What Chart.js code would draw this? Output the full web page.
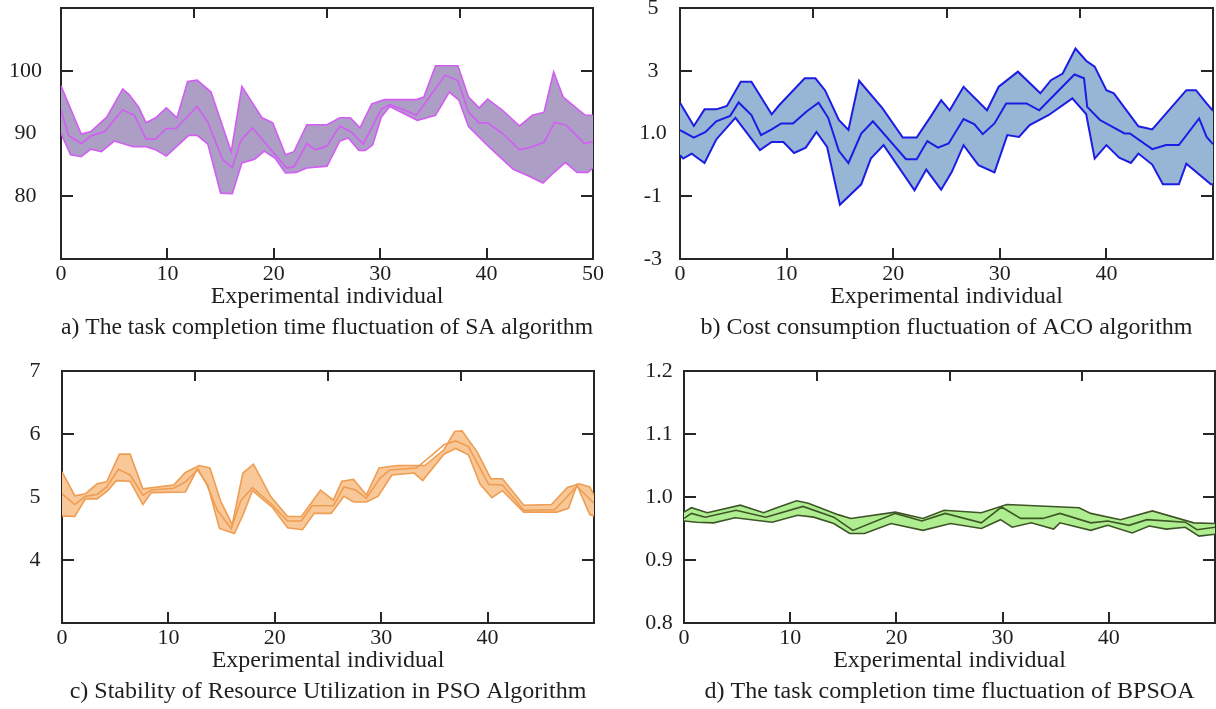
<!DOCTYPE html>
<html><head><meta charset="utf-8">
<script src="https://cdn.jsdelivr.net/npm/chart.js@4/dist/chart.umd.min.js"></script>
<style>
html,body{margin:0;padding:0;background:#fff;width:1216px;height:709px;overflow:hidden;}
canvas{position:absolute;}
</style></head><body>
<canvas id="ca" width="608" height="345" style="left:0;top:0"></canvas>
<canvas id="cb" width="608" height="345" style="left:608px;top:0"></canvas>
<canvas id="cc" width="608" height="364" style="left:0;top:345px"></canvas>
<canvas id="cd" width="608" height="364" style="left:608px;top:345px"></canvas>
<script>
// ---------- tick values / labels ----------
const xTicksFull = [0,10,20,30,40,50];
const xTicksShort = [0,10,20,30,40];
const topTicks = [12.5,25,37.5];
const saYTicks = [80,90,100];
const saYLabels = ['80','90','100'];
const acoYTicks = [-3,-1,1,3,5];
const acoYLabels = ['-3','-1','1.0','3','5'];
const psoYTicks = [4,5,6,7];
const psoYLabels = ['4','5','6','7'];
const bpYTicks = [0.8,0.9,1.0,1.1,1.2];
const bpYLabels = ['0.8','0.9','1.0','1.1','1.2'];
const xTitle = 'Experimental individual';
const captions = [
  'a) The task completion time fluctuation of SA algorithm',
  'b) Cost consumption fluctuation of ACO algorithm',
  'c) Stability of Resource Utilization in PSO Algorithm',
  'd) The task completion time fluctuation of BPSOA'
];

// ---------- series: [experimental individual, value] ----------
const saUpper = [[0,97.6],[1.9,89.9],[2.8,90.3],[4.3,92.6],[5.8,97.1],[6.4,96.2],[7.3,94.2],[8.0,91.7],[8.9,92.5],[9.9,94.1],[10.9,92.5],[11.9,98.3],[12.8,98.5],[14.1,96.6],[16.0,87.1],[17.0,97.5],[18.9,92.5],[19.9,91.7],[21.1,86.6],[21.9,87.1],[23.1,91.4],[25.0,91.4],[26.2,92.5],[27.2,92.5],[28.1,90.9],[29.2,94.7],[30.4,95.4],[33.4,95.4],[34.1,95.8],[35.2,100.8],[37.3,100.8],[38.3,95.8],[39.3,94.1],[40.1,95.5],[41.5,93.7],[43.1,91.2],[44.3,92.9],[45.4,93.4],[46.3,99.8],[47.2,95.8],[48.7,93.7],[49.3,92.9],[50,92.9]];
const saMiddle = [[0,93.7],[0.7,89.7],[1.9,88.4],[2.8,89.6],[4.1,90.3],[5.8,93.8],[6.9,92.9],[8.0,89.1],[8.9,89.1],[9.9,90.8],[10.8,90.8],[12.8,94.3],[13.8,91.8],[15.2,85.8],[16.1,84.6],[16.9,88.9],[18.0,90.9],[19.0,88.9],[19.9,87.1],[21.2,84.5],[21.9,84.7],[23.1,88.4],[23.9,87.4],[25.0,88.0],[26.2,91.2],[27.3,90.2],[28.4,88.3],[30.1,93.9],[30.9,94.6],[32.2,93.8],[33.4,92.9],[36.1,99.3],[37.3,98.4],[38.3,93.4],[39.3,91.7],[40.1,91.7],[41.5,90.0],[43.1,87.4],[44.3,87.9],[45.4,88.6],[46.4,91.8],[47.5,91.3],[49.2,88.4],[50,88.7]];
const saLower = [[0,90.0],[0.9,86.6],[1.9,86.3],[2.8,87.5],[3.8,87.1],[5.0,88.8],[6.8,87.9],[8.0,87.9],[8.9,87.4],[9.9,86.4],[12.0,89.7],[12.8,89.7],[13.8,88.3],[15.0,80.5],[16.1,80.4],[17.0,85.3],[18.2,85.9],[19.1,87.2],[20.1,86.1],[21.1,83.7],[22.1,83.8],[23.1,84.5],[25.0,84.8],[26.2,88.8],[27.0,89.3],[28.0,87.3],[28.6,87.3],[29.3,88.2],[30.1,92.6],[30.9,94.3],[33.5,92.1],[35.2,92.9],[36.5,96.6],[37.4,95.3],[38.3,91.1],[40.2,87.9],[42.5,84.3],[44.0,83.2],[45.3,82.1],[46.4,83.9],[47.4,85.4],[48.5,83.8],[49.5,83.8],[50,84.5]];

const acoUpper = [[0,1.98],[1.3,1.24],[2.3,1.77],[3.4,1.77],[4.4,1.88],[5.7,2.65],[6.7,2.65],[8.6,1.61],[9.3,1.90],[11.7,2.76],[12.7,2.76],[13.6,2.38],[14.9,1.43],[15.8,1.11],[16.8,2.68],[19.0,1.80],[20.9,0.87],[22.2,0.87],[23.5,1.53],[24.5,2.06],[25.3,1.74],[26.6,2.49],[28.8,1.74],[29.9,2.49],[31.7,2.97],[33.8,2.28],[34.8,2.70],[35.9,2.91],[37.1,3.71],[38.1,3.32],[38.9,3.13],[40.0,2.38],[40.7,2.28],[43.0,1.23],[44.3,1.13],[47.5,2.38],[48.4,2.38],[49.4,1.96],[50,1.72]];
const acoMiddle = [[0,1.11],[1.3,0.87],[2.4,1.05],[3.4,1.39],[4.7,1.56],[5.5,1.99],[6.7,1.59],[7.6,0.95],[8.6,1.13],[9.5,1.32],[10.6,1.32],[11.9,1.71],[13.0,1.98],[13.9,1.50],[14.9,0.45],[15.8,0.06],[17.0,1.00],[18.1,1.39],[21.2,0.18],[22.2,0.18],[23.2,0.76],[24.2,0.55],[25.2,0.68],[26.6,1.46],[27.6,1.30],[28.4,0.98],[29.5,1.32],[30.6,1.96],[32.5,1.96],[33.7,1.74],[37.0,2.88],[37.9,2.76],[38.2,1.85],[39.4,1.43],[41.7,1.00],[42.2,1.00],[44.3,0.50],[45.6,0.63],[46.8,0.63],[48.7,1.48],[49.4,0.89],[50,0.66]];
const acoLower = [[0,0.31],[0.3,0.20],[1.1,0.36],[2.3,0.06],[3.4,0.81],[5.2,1.50],[7.5,0.47],[8.6,0.73],[9.7,0.73],[10.7,0.38],[11.8,0.55],[12.8,1.05],[13.8,0.57],[15.0,-1.27],[17.0,-0.62],[17.9,0.20],[19.1,0.63],[22.0,-0.81],[23.1,-0.15],[24.5,-0.79],[25.5,-0.22],[26.6,0.63],[28.0,-0.01],[29.5,-0.24],[30.7,0.95],[31.8,0.89],[32.8,1.27],[34.6,1.59],[36.8,2.12],[38.1,1.62],[38.9,0.20],[40.0,0.63],[41.2,0.23],[42.3,0.06],[43.0,0.36],[44.3,0.01],[45.3,-0.62],[46.8,-0.62],[47.5,0.04],[49.8,-0.62],[50,-0.62]];

const psoUpper = [[0,5.40],[1.2,5.02],[2.2,5.05],[3.3,5.21],[4.2,5.24],[5.4,5.68],[6.4,5.68],[7.6,5.13],[10.5,5.19],[11.6,5.39],[12.9,5.50],[13.9,5.46],[14.9,4.94],[16.0,4.56],[17.0,5.38],[18.0,5.52],[19.6,5.01],[21.2,4.69],[22.5,4.69],[24.3,5.11],[25.5,4.95],[26.3,5.25],[27.4,5.28],[28.6,5.03],[29.8,5.46],[31.5,5.50],[34.1,5.50],[35.9,5.75],[36.9,6.04],[37.6,6.05],[39.0,5.72],[40.3,5.29],[41.4,5.29],[43.4,4.87],[46.0,4.88],[47.5,5.15],[48.6,5.21],[49.6,5.16],[50,5.03]];
const psoMiddle = [[0,5.05],[1.2,4.88],[2.2,5.01],[3.3,5.04],[4.2,5.16],[5.3,5.44],[6.4,5.35],[7.6,5.03],[8.4,5.11],[10.5,5.14],[11.6,5.24],[12.8,5.44],[13.6,5.20],[14.6,4.79],[15.9,4.50],[16.8,4.94],[17.9,5.15],[19.6,4.90],[21.2,4.62],[22.5,4.62],[23.5,4.86],[25.5,4.86],[26.5,5.16],[27.6,5.11],[28.6,4.98],[29.9,5.30],[30.8,5.43],[33.3,5.46],[34.8,5.67],[35.9,5.83],[37.0,5.89],[38.2,5.80],[40.1,5.20],[41.4,5.19],[43.4,4.79],[46.3,4.80],[48.4,5.17],[50,4.90]];
const psoLower = [[0,4.70],[1.2,4.69],[2.2,4.97],[3.3,4.97],[4.3,5.10],[5.1,5.26],[6.4,5.25],[7.6,4.88],[8.4,5.07],[11.6,5.08],[12.7,5.44],[13.7,5.19],[14.8,4.50],[16.2,4.42],[17.0,4.71],[17.9,5.10],[19.8,4.83],[21.2,4.51],[22.6,4.48],[23.7,4.74],[25.3,4.74],[26.5,5.01],[27.4,4.92],[28.6,4.92],[29.7,5.01],[31.0,5.35],[33.1,5.38],[33.9,5.26],[35.9,5.68],[37.0,5.77],[38.2,5.67],[39.3,5.20],[40.4,4.99],[41.4,5.10],[43.4,4.76],[46.5,4.76],[47.6,4.82],[48.4,5.19],[49.6,4.72],[50,4.70]];

const bpUpper = [[0,0.976],[0.7,0.983],[2.2,0.975],[5.3,0.987],[7.5,0.975],[8.6,0.982],[10.6,0.994],[11.7,0.990],[14.5,0.972],[15.7,0.966],[19.9,0.976],[22.5,0.966],[24.5,0.979],[28.0,0.975],[30.4,0.988],[37.2,0.983],[38.3,0.974],[41.1,0.964],[44.1,0.978],[48.0,0.959],[50,0.958]];
const bpMiddle = [[0,0.966],[0.7,0.974],[2.0,0.968],[4.9,0.979],[7.7,0.968],[11.2,0.985],[14.1,0.968],[15.9,0.947],[19.9,0.974],[22.4,0.962],[24.6,0.974],[28.0,0.959],[29.9,0.984],[31.7,0.966],[33.8,0.966],[35.4,0.974],[38.3,0.959],[39.9,0.962],[41.9,0.955],[43.6,0.964],[47.2,0.960],[48.3,0.948],[50,0.952]];
const bpLower = [[0,0.962],[1.2,0.960],[2.8,0.959],[4.8,0.967],[8.3,0.960],[10.7,0.971],[12.2,0.968],[14.1,0.958],[15.6,0.942],[17.0,0.942],[19.5,0.958],[22.5,0.947],[25.1,0.958],[28.0,0.950],[29.8,0.964],[30.9,0.952],[32.7,0.959],[34.8,0.949],[35.4,0.959],[38.3,0.947],[39.9,0.955],[42.2,0.943],[43.8,0.954],[45.4,0.949],[47.2,0.952],[48.5,0.938],[50,0.941]];

// ---------- drawing ----------
const FONT = 'Liberation Serif, Times New Roman, serif';
const AX = '#262626';
const TXT = '#1e1e1e';

function noPad(s) { s.paddingTop = 0; s.paddingBottom = 0; s.paddingLeft = 0; s.paddingRight = 0; }

function panel(id, o) {
  const toXY = a => a.map(p => ({x: p[0], y: p[1]}));
  const ds = (d, fill) => ({
    data: toXY(d), borderColor: o.line, borderWidth: o.lw, backgroundColor: o.fill,
    pointRadius: 0, tension: 0, fill: fill
  });
  const setTicks = arr => (s => { s.ticks = arr.map(v => ({value: v})); });
  const gridOpts = tl => ({drawOnChartArea: false, drawTicks: true, tickLength: tl, color: AX, lineWidth: 2});
  const border = {display: true, color: AX, width: 2};
  new Chart(document.getElementById(id), {
    type: 'line',
    data: {datasets: [ds(o.upper, {target: 2}), ds(o.middle, false), ds(o.lower, false)]},
    options: {
      responsive: false, maintainAspectRatio: false, animation: false,
      layout: {padding: {left: 0, right: 0, top: o.top, bottom: 0}},
      plugins: {
        legend: {display: false}, tooltip: {enabled: false},
        filler: {drawTime: 'beforeDatasetsDraw'},
        title: {display: true, position: 'bottom', fullSize: false, text: o.caption, color: TXT,
          font: {family: FONT, size: 24, weight: 'normal', lineHeight: 1.2},
          padding: {top: 2, bottom: 2.6}}
      },
      scales: {
        x: {type: 'linear', position: 'bottom', min: 0, max: 50,
          afterBuildTicks: setTicks(o.xTicks), afterFit: s => { s.height = 52.6; noPad(s); },
          ticks: {font: {family: FONT, size: 22}, color: TXT, padding: 12.8, maxRotation: 0, autoSkip: false,
            callback: v => String(v)},
          grid: gridOpts(-11), border: border,
          title: {display: true, text: xTitle, color: TXT, font: {family: FONT, size: 24, lineHeight: 1.2},
            padding: {top: 0, bottom: 0}}},
        x2: {type: 'linear', position: 'top', min: 0, max: 50,
          afterBuildTicks: setTicks(topTicks), afterFit: s => { s.height = 0; noPad(s); },
          ticks: {display: false}, grid: gridOpts(-10), border: border},
        y: {type: 'linear', position: 'left', min: o.ymin, max: o.ymax,
          afterBuildTicks: setTicks(o.yTicks), afterFit: s => { s.width = o.yw; noPad(s); },
          ticks: {font: {family: FONT, size: 22}, color: TXT, padding: o.ypad, crossAlign: 'center',
            callback: (v, i) => o.yLabels[i]},
          grid: gridOpts(-12), border: border},
        y2: {type: 'linear', position: 'right', min: o.ymin, max: o.ymax,
          afterBuildTicks: setTicks(o.yTicks), afterFit: s => { s.width = o.rw; noPad(s); },
          ticks: {display: false}, grid: gridOpts(-12), border: border}
      }
    }
  });
}

panel('ca', {upper: saUpper, middle: saMiddle, lower: saLower, fill: '#ac9ec5', line: '#d35cf4', lw: 1.6,
  ymin: 70, ymax: 110, yTicks: saYTicks, yLabels: saYLabels, xTicks: xTicksFull,
  top: 8, yw: 61, rw: 15, ypad: 31, caption: captions[0]});
panel('cb', {upper: acoUpper, middle: acoMiddle, lower: acoLower, fill: '#97b5d5', line: '#1c1ce4', lw: 2,
  ymin: -3, ymax: 5, yTicks: acoYTicks, yLabels: acoYLabels, xTicks: xTicksShort,
  top: 8, yw: 72, rw: 3, ypad: 25.3, caption: captions[1]});
panel('cc', {upper: psoUpper, middle: psoMiddle, lower: psoLower, fill: '#f9c898', line: '#ee9d52', lw: 1.6,
  ymin: 3, ymax: 7, yTicks: psoYTicks, yLabels: psoYLabels, xTicks: xTicksShort,
  top: 26, yw: 62, rw: 14, ypad: 33.5, caption: captions[2]});
panel('cd', {upper: bpUpper, middle: bpMiddle, lower: bpLower, fill: '#aeee90', line: '#3e5526', lw: 1.6,
  ymin: 0.8, ymax: 1.2, yTicks: bpYTicks, yLabels: bpYLabels, xTicks: xTicksShort,
  top: 26, yw: 76, rw: 1, ypad: 23.3, caption: captions[3]});
</script>
</body></html>
